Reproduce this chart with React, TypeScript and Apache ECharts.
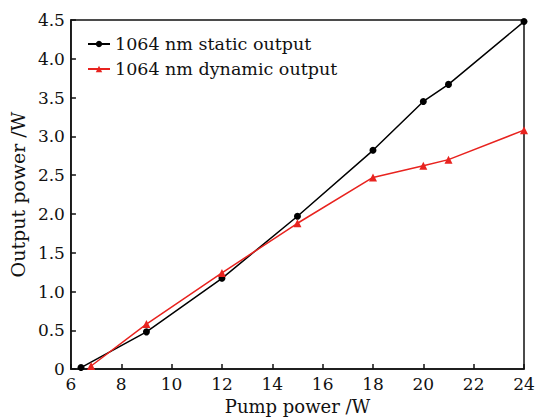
import React, { useEffect, useRef } from "react";
import * as echarts from "echarts";

const staticX = [6.4, 9, 12, 15, 18, 20, 21, 24];
const staticY = [0.02, 0.48, 1.17, 1.97, 2.82, 3.45, 3.67, 4.48];
const dynamicX = [6.8, 9, 12, 15, 18, 20, 21, 24];
const dynamicY = [0.04, 0.58, 1.24, 1.88, 2.47, 2.62, 2.7, 3.08];
const seriesNames = ["1064 nm static output", "1064 nm dynamic output"];

const FONT = "DejaVu Serif";

export default function App() {
  const ref = useRef<HTMLDivElement>(null);
  useEffect(() => {
    if (!ref.current) return;
    const chart = echarts.init(ref.current, null, { renderer: "svg" });
    const axisText = { color: "#111", fontFamily: FONT, fontSize: 17 };
    chart.setOption({
      animation: false,
      backgroundColor: "#fff",
      grid: {
        left: 70,
        right: 14,
        top: 20,
        bottom: 48,
        show: true,
        borderColor: "#111",
        borderWidth: 1.5,
      },
      legend: {
        orient: "vertical",
        left: 87,
        top: 35,
        padding: 0,
        itemWidth: 22,
        itemHeight: 8,
        itemGap: 7,
        textStyle: { ...axisText, fontSize: 17.5 },
        data: seriesNames,
      },
      xAxis: {
        type: "value",
        min: 6,
        max: 24,
        interval: 2,
        name: "Pump power /W",
        nameLocation: "middle",
        nameGap: 27,
        nameTextStyle: { ...axisText, fontSize: 18 },
        axisLine: { lineStyle: { color: "#111", width: 1.5 } },
        axisTick: { inside: true, length: 5, lineStyle: { color: "#111", width: 1.5 } },
        axisLabel: { ...axisText, margin: 6 },
        splitLine: { show: false },
      },
      yAxis: {
        type: "value",
        min: 0,
        max: 4.5,
        interval: 0.5,
        name: "Output power /W",
        nameLocation: "middle",
        nameGap: 43,
        nameTextStyle: { ...axisText, fontSize: 19 },
        axisLine: { show: true, lineStyle: { color: "#111", width: 1.5 } },
        axisTick: { show: true, inside: true, length: 5, lineStyle: { color: "#111", width: 1.5 } },
        axisLabel: {
          ...axisText,
          margin: 6,
          formatter: (v: number) => (v === 0 ? "0" : v.toFixed(1)),
        },
        splitLine: { show: false },
      },
      series: [
        {
          name: seriesNames[0],
          type: "line",
          data: staticX.map((x, i) => [x, staticY[i]]),
          symbol: "circle",
          symbolSize: 7,
          itemStyle: { color: "#000" },
          lineStyle: { color: "#000", width: 1.5 },
        },
        {
          name: seriesNames[1],
          type: "line",
          data: dynamicX.map((x, i) => [x, dynamicY[i]]),
          symbol: "triangle",
          symbolSize: 8,
          itemStyle: { color: "#e8231f" },
          lineStyle: { color: "#e8231f", width: 1.5 },
        },
      ],
    });
    return () => chart.dispose();
  }, []);
  return (
    <div
      ref={ref}
      style={{ position: "absolute", left: 0, top: 0, width: 538, height: 420 }}
    />
  );
}
